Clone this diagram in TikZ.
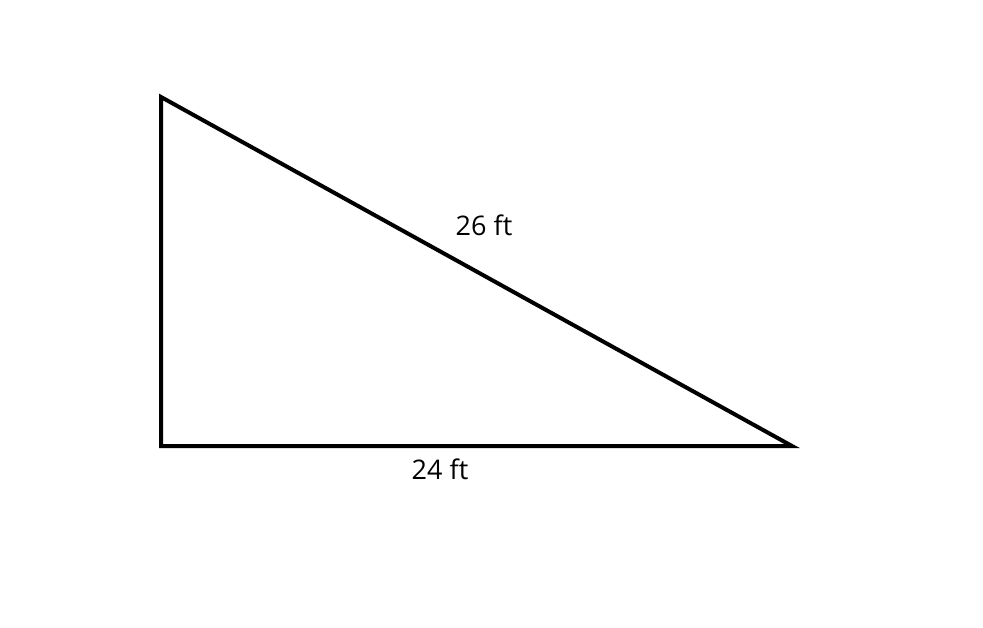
\documentclass[tikz,border=0pt]{standalone}
\usepackage{fontspec}
\setmainfont{Open Sans}
\usepackage{tikz}
\usetikzlibrary{positioning}

\tikzset{side/.style={line width=4pt},
lbl/.style={font=\fontsize{27}{32}\selectfont, inner sep=0pt}}

\begin{document}
\begin{tikzpicture}[x=1pt,y=-1pt]
\useasboundingbox (0,0) rectangle (983,628);
\coordinate(top) at (161,97);
\coordinate(corner) at (161,446);
\coordinate(right) at (792,446);

\draw[side] (top) -- (corner) -- (right) -- cycle;

\node[lbl](hyp) at (484,225) {26 ft};
\node[lbl](base) at (440,469) {24 ft};

\end{tikzpicture}
\end{document}
